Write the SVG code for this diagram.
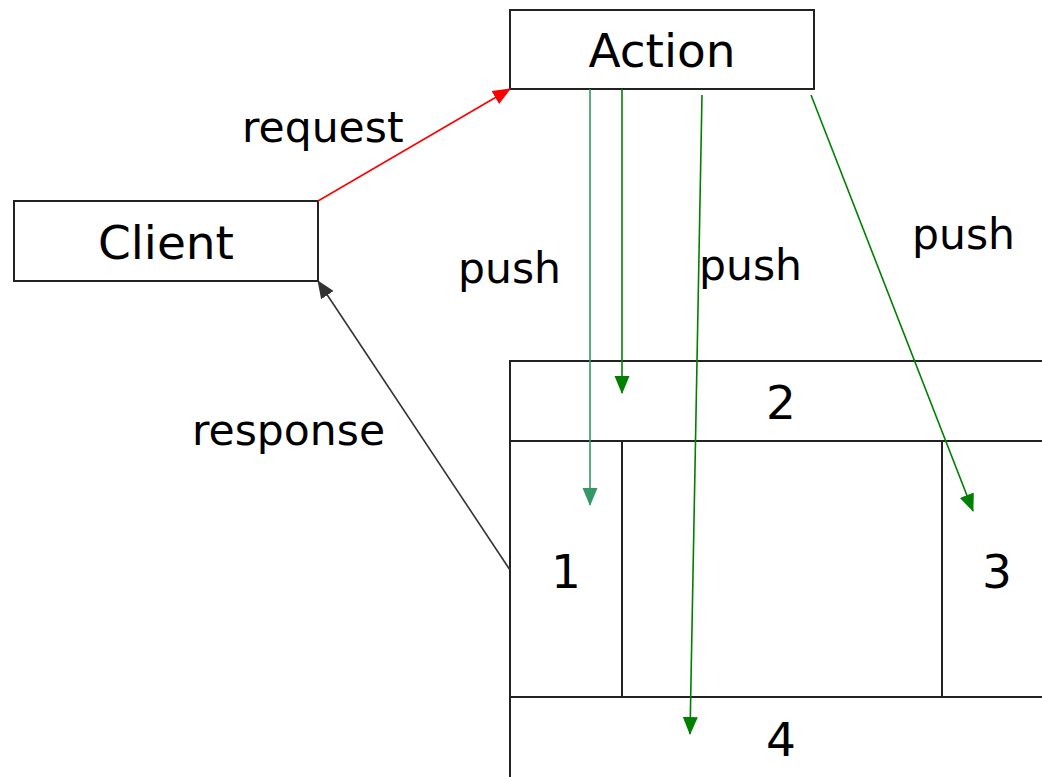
<svg xmlns="http://www.w3.org/2000/svg" width="1042" height="777" viewBox="0 0 1042 777">
<style>
.box{fill:#fff;stroke:#222;stroke-width:2}
.t{font-family:"DejaVu Sans",Verdana,sans-serif;font-size:47px;fill:#000;text-anchor:middle}
.l{font-family:"DejaVu Sans",Verdana,sans-serif;font-size:42.5px;fill:#000}
.c{fill:none;stroke-width:1.6}
</style>
<defs>
<marker id="aR" markerUnits="userSpaceOnUse" markerWidth="18" markerHeight="18" viewBox="0 0 18 18" refX="17" refY="9" orient="auto"><path d="M0,1.5 L18,9 L0,16.5 Z" fill="#ff0000"/></marker>
<marker id="aK" markerUnits="userSpaceOnUse" markerWidth="18" markerHeight="18" viewBox="0 0 18 18" refX="17" refY="9" orient="auto"><path d="M0,1.5 L18,9 L0,16.5 Z" fill="#333"/></marker>
<marker id="aG" markerUnits="userSpaceOnUse" markerWidth="18" markerHeight="18" viewBox="0 0 18 18" refX="17" refY="9" orient="auto"><path d="M0,1.5 L18,9 L0,16.5 Z" fill="#008000"/></marker>
<marker id="aS" markerUnits="userSpaceOnUse" markerWidth="18" markerHeight="18" viewBox="0 0 18 18" refX="17" refY="9" orient="auto"><path d="M0,1.5 L18,9 L0,16.5 Z" fill="#339966"/></marker>
</defs>
<g id="action"><rect class="box" x="510" y="10" width="304" height="79"/><text class="t" x="662" y="67">Action</text></g>
<g id="client"><rect class="box" x="14" y="201" width="304" height="80"/><text class="t" x="166" y="259">Client</text></g>
<g id="layout">
<rect class="box" x="510" y="361" width="540" height="420"/>
<line class="box" x1="510" y1="441" x2="1050" y2="441"/>
<line class="box" x1="510" y1="697" x2="1050" y2="697"/>
<line class="box" x1="622" y1="441" x2="622" y2="697"/>
<line class="box" x1="942" y1="441" x2="942" y2="697"/>
</g>
<g id="region2"><text class="t" x="781" y="419">2</text></g>
<g id="region1"><text class="t" x="566" y="588">1</text></g>
<g id="region3"><text class="t" x="997" y="588">3</text></g>
<g id="region4"><text class="t" x="781" y="756">4</text></g>
<g id="connectors">
<line class="c" x1="318" y1="201" x2="510" y2="89" stroke="#ff0000" marker-end="url(#aR)"/>
<line class="c" x1="510" y1="570" x2="318" y2="281" stroke="#333" marker-end="url(#aK)"/>
<line class="c" x1="590" y1="89" x2="590" y2="505" stroke="#339966" marker-end="url(#aS)"/>
<line class="c" x1="622" y1="89" x2="622" y2="393" stroke="#008000" marker-end="url(#aG)"/>
<line class="c" x1="702" y1="95" x2="690" y2="734" stroke="#008000" marker-end="url(#aG)"/>
<line class="c" x1="811" y1="95" x2="973" y2="511" stroke="#008000" marker-end="url(#aG)"/>
</g>
<g id="labels">
<text class="l" x="242" y="142">request</text>
<text class="l" x="192" y="445">response</text>
<text class="l" x="458" y="283">push</text>
<text class="l" x="699" y="280">push</text>
<text class="l" x="912" y="249">push</text>
</g>
</svg>
